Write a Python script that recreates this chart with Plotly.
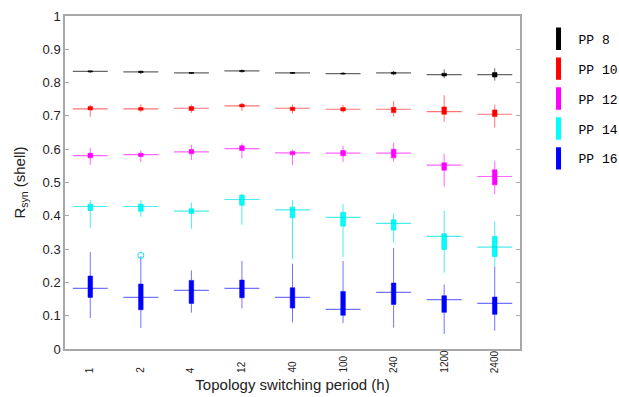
import plotly.graph_objects as go

periods = ["1", "2", "4", "12", "40", "100", "240", "1200", "2400"]

series_names = ["PP 8", "PP 10", "PP 12", "PP 14", "PP 16"]

pp8_med = [0.834, 0.832, 0.829, 0.835, 0.829, 0.827, 0.829, 0.824, 0.824]
pp8_q1 = [0.832, 0.830, 0.828, 0.833, 0.828, 0.826, 0.826, 0.820, 0.817]
pp8_q3 = [0.835, 0.834, 0.830, 0.836, 0.830, 0.828, 0.831, 0.828, 0.830]
pp8_lo = [0.829, 0.826, 0.826, 0.830, 0.826, 0.824, 0.822, 0.813, 0.806]
pp8_hi = [0.837, 0.836, 0.832, 0.840, 0.832, 0.832, 0.835, 0.840, 0.843]

pp10_med = [0.721, 0.721, 0.723, 0.730, 0.723, 0.720, 0.720, 0.713, 0.705]
pp10_q1 = [0.718, 0.717, 0.716, 0.727, 0.716, 0.715, 0.710, 0.705, 0.698]
pp10_q3 = [0.728, 0.725, 0.728, 0.735, 0.726, 0.725, 0.726, 0.727, 0.718]
pp10_lo = [0.698, 0.711, 0.709, 0.715, 0.707, 0.710, 0.698, 0.682, 0.665]
pp10_hi = [0.733, 0.735, 0.734, 0.739, 0.734, 0.733, 0.745, 0.762, 0.734]

pp12_med = [0.581, 0.584, 0.592, 0.602, 0.589, 0.588, 0.588, 0.552, 0.518]
pp12_q1 = [0.574, 0.578, 0.586, 0.596, 0.583, 0.580, 0.574, 0.537, 0.493]
pp12_q3 = [0.588, 0.588, 0.599, 0.610, 0.593, 0.596, 0.600, 0.559, 0.538]
pp12_lo = [0.553, 0.561, 0.568, 0.573, 0.553, 0.562, 0.562, 0.487, 0.465]
pp12_hi = [0.604, 0.596, 0.613, 0.617, 0.599, 0.610, 0.619, 0.586, 0.565]

pp14_med = [0.428, 0.428, 0.414, 0.449, 0.418, 0.395, 0.377, 0.338, 0.306]
pp14_q1 = [0.416, 0.414, 0.407, 0.432, 0.394, 0.369, 0.357, 0.299, 0.278]
pp14_q3 = [0.435, 0.435, 0.421, 0.462, 0.426, 0.410, 0.388, 0.346, 0.338]
pp14_lo = [0.363, 0.397, 0.361, 0.373, 0.270, 0.276, 0.319, 0.229, 0.247]
pp14_hi = [0.447, 0.447, 0.440, 0.467, 0.447, 0.435, 0.407, 0.415, 0.383]
pp14_outlier_x = ["2"]
pp14_outlier_y = [0.281]

pp16_med = [0.182, 0.155, 0.176, 0.182, 0.155, 0.119, 0.170, 0.148, 0.137]
pp16_q1 = [0.155, 0.118, 0.137, 0.154, 0.123, 0.101, 0.134, 0.110, 0.104]
pp16_q3 = [0.219, 0.195, 0.206, 0.207, 0.184, 0.173, 0.198, 0.160, 0.156]
pp16_lo = [0.093, 0.063, 0.109, 0.122, 0.080, 0.078, 0.064, 0.045, 0.055]
pp16_hi = [0.291, 0.279, 0.236, 0.264, 0.256, 0.264, 0.303, 0.194, 0.247]

series = [
    (pp8_med, pp8_q1, pp8_q3, pp8_lo, pp8_hi),
    (pp10_med, pp10_q1, pp10_q3, pp10_lo, pp10_hi),
    (pp12_med, pp12_q1, pp12_q3, pp12_lo, pp12_hi),
    (pp14_med, pp14_q1, pp14_q3, pp14_lo, pp14_hi),
    (pp16_med, pp16_q1, pp16_q3, pp16_lo, pp16_hi),
]
solid = ["rgb(0,0,0)", "rgb(255,0,0)", "rgb(255,0,255)", "rgb(0,255,255)", "rgb(0,0,255)"]
light = ["rgba(0,0,0,0.6)", "rgba(255,0,0,0.55)", "rgba(255,0,255,0.6)",
         "rgba(0,230,230,0.7)", "rgba(0,0,255,0.55)"]

fig = go.Figure()
for i, (med, q1, q3, lo, hi) in enumerate(series):
    fig.add_trace(go.Box(
        x=periods, q1=q1, median=med, q3=q3, lowerfence=lo, upperfence=hi,
        boxpoints=False, whiskerwidth=0, width=0.09,
        fillcolor=solid[i], line=dict(color=light[i], width=1),
        showlegend=False, hoverinfo="skip",
    ))
    fig.add_trace(go.Scatter(
        x=periods, y=med, mode="markers",
        marker=dict(symbol="line-ew", size=25, color=light[i],
                    line=dict(color=light[i], width=1.2)),
        showlegend=False, hoverinfo="skip",
    ))

fig.add_trace(go.Scatter(
    x=pp14_outlier_x, y=pp14_outlier_y, mode="markers",
    marker=dict(symbol="circle-open", size=6, color="rgb(0,230,230)", line=dict(width=1)),
    showlegend=False, hoverinfo="skip",
))

for i, name in enumerate(series_names):
    fig.add_trace(go.Scatter(
        x=[None], y=[None], mode="markers", name=name, legendgroup=name,
        marker=dict(symbol="line-ns", size=18, color=solid[i],
                    line=dict(color=solid[i], width=6)),
    ))

# x tick labels: rotated, bottom-aligned as in the original
for idx, p in enumerate(periods):
    fig.add_annotation(x=idx, xref="x", y=-0.078, yref="paper", text=p,
                       textangle=-90, showarrow=False, yanchor="bottom",
                       xanchor="center", font=dict(size=10, color="#222"))

axis_col = "#a8a8a8"
fig.update_layout(
    width=619, height=397,
    margin=dict(l=65, r=99, t=16, b=48, autoexpand=False),
    plot_bgcolor="white", paper_bgcolor="white",
    font=dict(family="Liberation Sans, Arial, sans-serif", color="#222"),
    boxmode="overlay",
    showlegend=True,
    legend=dict(xref="container", yref="container", x=0.87, y=0.94,
                xanchor="left", yanchor="top",
                font=dict(family="Liberation Mono, Courier New, monospace", size=13, color="black"),
                tracegroupgap=10, itemsizing="trace", bgcolor="rgba(0,0,0,0)"),
    xaxis=dict(type="category", categoryorder="array", categoryarray=periods,
               range=[-0.5, 8.5], showline=True, mirror=True, linecolor=axis_col,
               linewidth=1.5, ticks="", showticklabels=False,
               showgrid=False, zeroline=False, automargin=False,
               title=dict(text="Topology switching period (h)", font=dict(size=15), standoff=30)),
    yaxis=dict(range=[0, 1], dtick=0.1, showline=True, mirror="ticks", linecolor=axis_col,
               linewidth=1.5, ticks="inside", ticklen=4, tickcolor=axis_col,
               tickfont=dict(size=13), showgrid=False, zeroline=False, automargin=False,
               title=dict(text="R<sub>syn</sub> (shell)", font=dict(size=15), standoff=13)),
)

fig.write_html("out.html", config={"displayModeBar": False},
               post_script="document.body.style.margin='0px';")
